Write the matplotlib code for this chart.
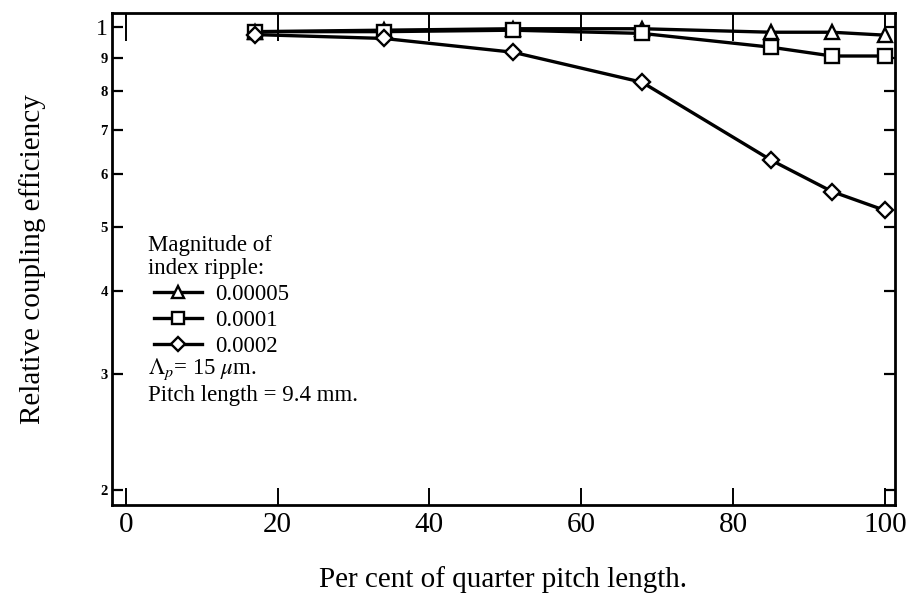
import numpy as np
import matplotlib.pyplot as plt
from matplotlib.lines import Line2D
from matplotlib.ticker import NullLocator

plt.rcParams['font.family'] = ['Liberation Serif', 'DejaVu Serif']
plt.rcParams['mathtext.fontset'] = 'stix'

# per cent of quarter pitch length
pct = [17, 34, 51, 68, 85, 93, 100]
# relative coupling efficiency, one list per ripple magnitude
eff_00005 = [0.985, 0.99, 0.995, 0.995, 0.983, 0.983, 0.973]
eff_0001 = [0.985, 0.985, 0.99, 0.979, 0.933, 0.905, 0.905]
eff_0002 = [0.975, 0.962, 0.917, 0.826, 0.63, 0.565, 0.529]
ripple_labels = ['0.00005', '0.0001', '0.0002']

yticks = [0.2, 0.3, 0.4, 0.5, 0.6, 0.7, 0.8, 0.9, 1.0]
ytick_labels = ['2', '3', '4', '5', '6', '7', '8', '9', '1']
xticks = [0, 20, 40, 60, 80, 100]

fig = plt.figure(figsize=(9.08, 6.03), dpi=100)
ax = fig.add_axes([0.1233, 0.1625, 0.8624, 0.8155])

style = dict(color='black', lw=2.4, markerfacecolor='white',
             markeredgecolor='black', markeredgewidth=1.7, markersize=10)
ax.plot(pct, eff_00005, marker='^', **style)
ax.plot(pct, eff_0001, marker='s', **style)
ax.plot(pct, eff_0002, marker='D', **dict(style, markersize=8.5))

ax.set_yscale('log')
ax.set_xlim(-1.8, 101.3)
ax.set_ylim(0.19, 1.05)
ax.yaxis.set_minor_locator(NullLocator())
ax.set_yticks(yticks)
ax.set_yticklabels(ytick_labels, fontsize=10.5, fontweight='bold')
ax.get_yticklabels()[-1].set_fontsize(17)
ax.get_yticklabels()[-1].set_fontweight('normal')
ax.yaxis.get_major_ticks()[-1].set_pad(14)
ax.set_xticks(xticks)
ax.set_xticklabels([str(v) for v in xticks], fontsize=21)

ax.tick_params(axis='y', direction='in', length=8, width=1.6, right=True, pad=3)
ax.tick_params(axis='x', direction='in', length=12, width=1.4, top=True, pad=5)
for t in ax.xaxis.get_major_ticks():
    t.tick2line.set_markersize(20)
for s in ax.spines.values():
    s.set_linewidth(2)

ax.set_xlabel('Per cent of quarter pitch length.', fontsize=21, labelpad=20)
ax.set_ylabel('Relative coupling efficiency', fontsize=21, labelpad=36)

fs = 16.5
tx = 0.046
ax.text(tx, 0.528, 'Magnitude of', transform=ax.transAxes, fontsize=fs, va='center')
ax.text(tx, 0.480, 'index ripple:', transform=ax.transAxes, fontsize=fs, va='center')
ax.text(tx, 0.276, r'$\Lambda_p$= 15 $\mu$m.', transform=ax.transAxes, fontsize=fs, va='center')
ax.text(tx, 0.222, 'Pitch length = 9.4 mm.', transform=ax.transAxes, fontsize=fs, va='center')

handles = [Line2D([], [], marker=m, **dict(style, markersize=9)) for m in ['^', 's', 'D']]
handles[2].set_markersize(7.5)
ax.legend(handles, ripple_labels, loc='upper left', bbox_to_anchor=(0.054, 0.449),
          frameon=False, fontsize=fs, handlelength=2.1, handletextpad=0.55,
          labelspacing=0.22, borderaxespad=0, borderpad=0)

fig.savefig('out.png', dpi=100)
